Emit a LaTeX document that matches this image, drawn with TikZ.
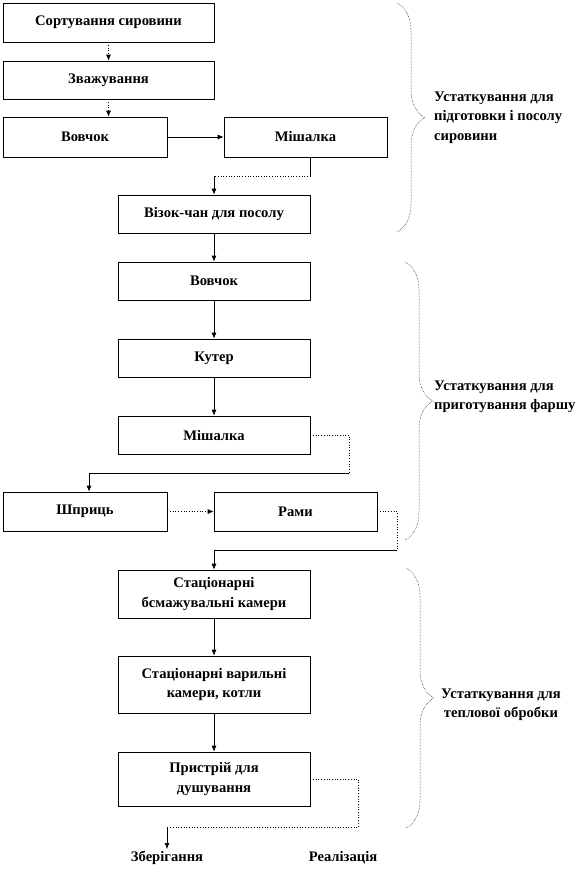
\documentclass[tikz,border=0pt]{standalone}
\usepackage{fontspec}
\setmainfont{Liberation Serif}
\usetikzlibrary{arrows.meta,positioning,calc,decorations.pathreplacing}

\begin{document}
\begin{tikzpicture}[
    x=1pt, y=-1pt,
    every node/.style={font=\bfseries\fontsize{14.6}{19.5}\selectfont, inner sep=0pt},
    stepbox/.style={draw, line width=0.7pt, align=center, minimum width=192pt, minimum height=38pt},
    widebox/.style={stepbox, minimum width=211pt},
    halfbox/.style={stepbox, minimum width=163pt, minimum height=39pt},
    flow/.style={line width=0.7pt, -{Latex[length=6pt,width=5pt]}},
    solidline/.style={line width=0.7pt},
    dotline/.style={line width=0.7pt, dotted},
    groupbrace/.style={line width=0.5pt, densely dotted, decorate, decoration={brace, amplitude=28pt}},
    grouplabel/.style={anchor=west, align=left}
]
\useasboundingbox (0,0) rectangle (581,879);

% preparation of raw material
\node[widebox, minimum height=39pt] (sort) at (108.5,22.5) {Сортування сировини};
\node[widebox] (zvazh) at (108.5,80) {Зважування};
\node[halfbox, minimum width=164pt, minimum height=40pt] (vovchok1) at (85,137) {Вовчок};
\node[halfbox, minimum height=40pt] (mishalka1) at (305.5,137) {Мішалка};
\node[stepbox] (vizok) at (214,214) {Візок-чан для посолу};

% mince preparation
\node[stepbox] (vovchok2) at (214,281) {Вовчок};
\node[stepbox] (kuter) at (214,358) {Кутер};
\node[stepbox] (mishalka2) at (214,435) {Мішалка};
\node[halfbox, minimum width=164pt] (shpryts) at (85,511.5) {Шприць};
\node[halfbox] (ramy) at (295.5,511.5) {Рами};

% heat treatment
\node[stepbox, minimum height=48pt] (stats1) at (214,594) {Стаціонарні\\бсмажувальні камери};
\node[stepbox, minimum height=57pt] (stats2) at (214,684.5) {Стаціонарні варильні\\камери, котли};
\node[stepbox, minimum height=54pt] (dush) at (214,779) {Пристрій для\\душування};
\node[inner sep=2pt] (zber) at (167,858) {Зберігання};
\node[inner sep=2pt] (real) at (343,858) {Реалізація};

\draw[flow, dotted] (sort.south) -- (zvazh.north);
\draw[flow, dotted] (zvazh.south) -- (zvazh.south |- vovchok1.north);
\draw[flow] (vovchok1) -- (mishalka1);
\draw[solidline] (vizok.east |- mishalka1.south) -- ++(0,19) coordinate (k1);
\draw[dotline] (k1) -- (k1 -| vizok.north);
\draw[flow] (k1 -| vizok.north) -- (vizok.north);
\draw[flow] (vizok) -- (vovchok2);
\draw[flow] (vovchok2) -- (kuter);
\draw[flow] (kuter) -- (mishalka2);
\draw[dotline] (mishalka2.east) -- ++(39,0) -- ++(0,38) coordinate (k2);
\draw[flow] (k2) -| ([xshift=4pt]shpryts.north);
\draw[flow, dotted] (shpryts) -- (ramy);
\draw[dotline] (ramy.east) -- ++(20,0) -- ++(0,38.5) coordinate (k3);
\draw[flow] (k3) -| (stats1.north);
\draw[flow] (stats1) -- (stats2);
\draw[flow] (stats2) -- (dush);
\draw[dotline] (dush.east) -- ++(48,0) -- ++(0,48) coordinate (k4) -- (k4 -| zber.north);
\draw[flow] (k4 -| zber.north) -- (zber.north);

% groups
\draw[groupbrace] (397,3) -- (397,232);
\node[grouplabel] (group1) at (434,117.5) {Устаткування для\\підготовки і посолу\\сировини};
\draw[groupbrace] (405,262) -- (405,540);
\node[grouplabel] (group2) at (434,397) {Устаткування для\\приготування фаршу};
\draw[groupbrace] (406,568) -- (406,828);
\node[grouplabel, align=center] (group3) at (441,705) {Устаткування для\\теплової обробки};
\end{tikzpicture}
\end{document}
